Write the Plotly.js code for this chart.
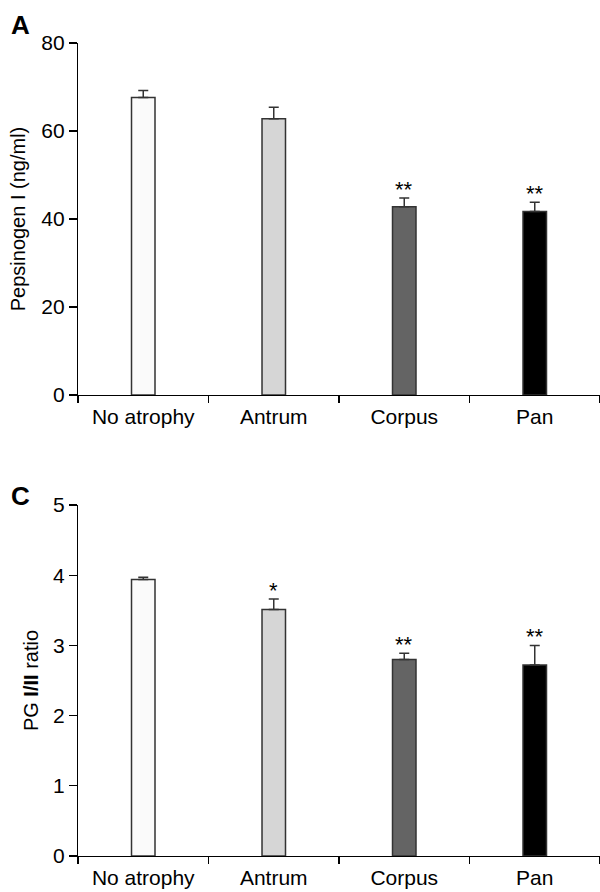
<!DOCTYPE html>
<html>
<head>
<meta charset="utf-8">
<script src="https://cdn.plot.ly/plotly-3.0.1.min.js"></script>
<style>html,body{margin:0;padding:0;background:#fff;}#chart{width:600px;height:892px;}</style>
</head>
<body>
<div id="chart"></div>
<script>
const categories = ["No atrophy", "Antrum", "Corpus", "Pan"];
const barColors = ["#fafafa", "#d6d6d6", "#646464", "#000000"];

const pepsinogenI = [67.6, 62.8, 42.8, 41.7];
const pepsinogenIErr = [1.6, 2.6, 2.0, 2.1];
const pepsinogenIMarks = ["", "", "**", "**"];

const pgRatio = [3.94, 3.51, 2.80, 2.72];
const pgRatioErr = [0.03, 0.15, 0.09, 0.28];
const pgRatioMarks = ["", "*", "**", "**"];

const fontFam = "Liberation Sans, Arial, sans-serif";

function barTrace(vals, errs, xa, ya) {
  return {
    type: "bar", x: categories, y: vals, xaxis: xa, yaxis: ya,
    width: 0.18,
    marker: {color: barColors, line: {color: "#333", width: 1.5}},
    error_y: {type: "data", array: errs, arrayminus: errs.map(() => 0), symmetric: false,
              color: "#333", thickness: 1.5, width: 5},
    showlegend: false, hoverinfo: "skip"
  };
}

const traces = [
  barTrace(pepsinogenI, pepsinogenIErr, "x", "y"),
  barTrace(pgRatio, pgRatioErr, "x2", "y2")
];

const starFont = {family: fontFam, size: 22, color: "#000"};
const annotations = [];
categories.forEach((c, i) => {
  if (pepsinogenIMarks[i]) annotations.push({x: c, y: pepsinogenI[i] + pepsinogenIErr[i], xref: "x", yref: "y",
    text: pepsinogenIMarks[i], showarrow: false, yanchor: "bottom", yshift: -6, font: starFont});
  if (pgRatioMarks[i]) annotations.push({x: c, y: pgRatio[i] + pgRatioErr[i], xref: "x2", yref: "y2",
    text: pgRatioMarks[i], showarrow: false, yanchor: "bottom", yshift: -6, font: starFont});
});
const letterFont = {family: "Liberation Sans Narrow, Liberation Sans, Arial", size: 26, color: "#000"};
annotations.push({xref: "paper", yref: "paper", x: -0.133, y: 1.043, xanchor: "left", yanchor: "top",
  text: "<b>A</b>", showarrow: false, font: letterFont});
annotations.push({xref: "paper", yref: "paper", x: -0.133, y: 0.464, xanchor: "left", yanchor: "top",
  text: "<b>C</b>", showarrow: false, font: letterFont});

const xaxisBase = {
  type: "category", range: [-0.5, 3.5], tickson: "boundaries", ticks: "outside", ticklen: 7, tickwidth: 1.2,
  tickcolor: "#000", showline: true, linecolor: "#000", linewidth: 1.2, showgrid: false, zeroline: false,
  ticklabelstandoff: 3,
  tickfont: {family: fontFam, size: 21, color: "#000"}, fixedrange: true
};
const yaxisBase = {
  ticks: "outside", ticklen: 8, tickwidth: 1.2, tickcolor: "#000", showline: true, linecolor: "#000", linewidth: 1.2,
  showgrid: false, zeroline: false, tickfont: {family: fontFam, size: 21, color: "#000"}, fixedrange: true
};

const layout = {
  width: 600, height: 892,
  margin: {l: 78, r: 0, t: 43, b: 36},
  paper_bgcolor: "#fff", plot_bgcolor: "#fff",
  font: {family: fontFam, color: "#000"},
  bargap: 0.8,
  xaxis: Object.assign({}, xaxisBase, {domain: [0, 1], anchor: "y"}),
  yaxis: Object.assign({}, yaxisBase, {domain: [0.567, 1], anchor: "x", range: [0, 80], tickvals: [0, 20, 40, 60, 80],
    title: {text: "Pepsinogen I (ng/ml)", font: {family: fontFam, size: 20, color: "#000"}, standoff: 10}}),
  xaxis2: Object.assign({}, xaxisBase, {domain: [0, 1], anchor: "y2"}),
  yaxis2: Object.assign({}, yaxisBase, {domain: [0, 0.4317], anchor: "x2", range: [0, 5], tickvals: [0, 1, 2, 3, 4, 5],
    title: {text: "PG <b>I/II</b> ratio", font: {family: fontFam, size: 20, color: "#000"}, standoff: 8}}),
  annotations: annotations
};

Plotly.newPlot("chart", traces, layout, {displayModeBar: false, staticPlot: true});
</script>
</body>
</html>
